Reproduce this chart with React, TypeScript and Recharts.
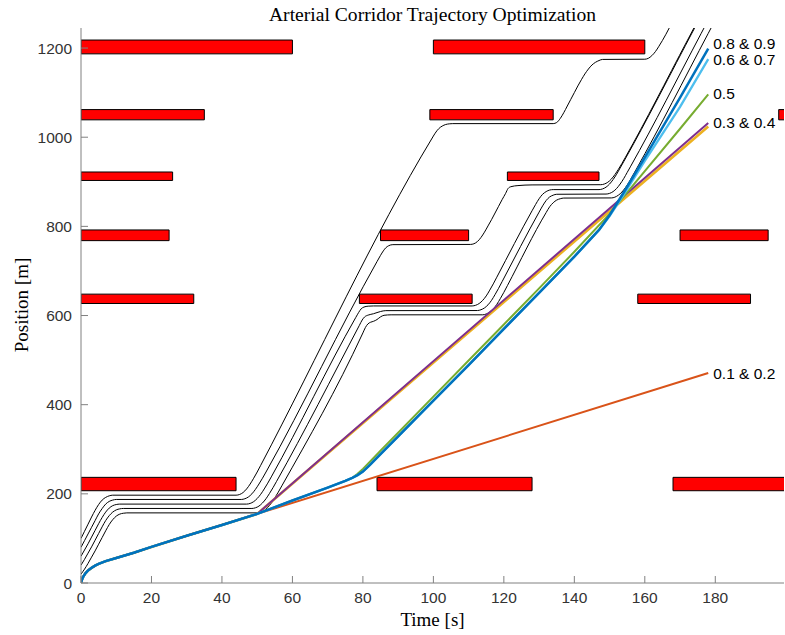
import { LineChart, Line, XAxis, YAxis, ReferenceArea, ReferenceDot } from 'recharts';

type Pt = [number, number];

const xTicks = [0, 20, 40, 60, 80, 100, 120, 140, 160, 180];
const yTicks = [0, 200, 400, 600, 800, 1000, 1200];

// stop bands [m] and red windows [s] of the six signals
const stopBands: Pt[] = [[207, 237], [627, 648], [768, 792], [903, 922], [1039, 1062], [1187, 1218]];
const redPhases: Pt[][] = [
  [[0, 44], [84, 128], [168, 212]],
  [[0, 32], [79, 111], [158, 190]],
  [[0, 25], [85, 110], [170, 195]],
  [[0, 26], [121, 147]],
  [[0, 35], [99, 134], [198, 233]],
  [[0, 60], [100, 160]],
];

// surrounding traffic (black)
const car0: Pt[] = [
  [0, 100], [1, 116], [2, 132], [3, 148], [4, 163], [5, 176], [6, 186], [7, 192], [8, 195.5], [9, 197],
  [44, 197], [45, 198.5], [46, 203], [47, 211], [48, 222], [49, 235], [50, 249], [51, 264],
  [99.5, 996], [100.5, 1009], [101.5, 1019], [102.5, 1025], [103.5, 1028.5], [104.5, 1030], [105.5, 1030.5],
  [134, 1030.5], [135, 1033], [136, 1042], [137, 1055], [138, 1070], [139, 1085], [140, 1100], [141, 1115],
  [142, 1129], [143, 1142], [144, 1153], [145, 1162], [146, 1168], [147, 1172], [148, 1174.5], [160, 1175],
  [161, 1177], [162, 1183], [163, 1192], [164, 1204], [165, 1217], [166, 1231], [167, 1246], [168, 1261],
];
const car1: Pt[] = [
  [0, 80], [1, 95], [2, 110], [3, 125], [4, 140], [5, 155], [6, 167], [7, 177], [8, 183], [9, 186], [10, 187.4],
  [45.5, 187.4], [46.5, 189], [47.5, 193], [48.5, 200], [49.5, 210], [50.5, 222], [51.5, 235], [52.5, 249],
  [84, 721], [85, 735], [85.8, 745], [86.5, 752], [87.3, 756.5], [88.5, 759], [110.5, 759.5],
  [111.5, 761], [112.5, 766], [113.5, 775], [114.5, 787], [115.5, 801], [116.5, 815], [117.5, 830],
  [118.5, 845], [119.5, 860], [120.5, 874], [121.2, 885], [122, 889], [124, 891.5], [128, 893], [147.5, 893.5],
  [148.5, 895], [149.5, 899], [150.5, 906], [151.5, 916], [152.5, 928], [153.5, 941], [154.5, 955],
  [172, 1216], [174, 1246], [176, 1276],
];
const car2: Pt[] = [
  [0, 60], [1, 74], [2, 88], [3, 103], [4, 118], [5, 133], [6, 147], [7, 159], [8, 168], [9, 173.5], [10, 176], [11, 177],
  [47, 177], [48, 178.5], [49, 182.5], [50, 189.5], [51, 199], [52, 211], [53, 224], [54, 238],
  [78, 596], [78.8, 607], [79.5, 615], [80.3, 619], [81.5, 621], [83, 621.5], [111, 621.5],
  [112, 623], [113, 627], [114, 634], [115, 644], [116, 657], [117, 671], [118, 686],
  [128, 835], [129, 849], [130, 862], [131, 872], [132, 878], [133, 881.5], [134, 882.5], [147, 882.5],
  [148, 884], [149, 888], [150, 895], [151, 905], [152, 917], [153, 931], [154, 945], [174, 1243], [176, 1273],
];
const car3: Pt[] = [
  [0, 40], [1, 53], [2, 67], [3, 81], [4, 96], [5, 111], [6, 126], [7, 140], [8, 151], [9, 159], [10, 164],
  [11, 166.3], [12, 167.2], [48.5, 167.2], [49.5, 168.7], [50.5, 172.5], [51.5, 179.5], [52.5, 189],
  [53.5, 201], [54.5, 214], [55.5, 228], [79, 578], [79.8, 590], [80.5, 597], [81.5, 601], [83, 604],
  [85, 609], [86.5, 611], [112.5, 611.2], [113.5, 613], [114.5, 617], [115.5, 624], [116.5, 634],
  [117.5, 647], [118.5, 661], [119.5, 676], [130, 832], [131, 846], [132, 858], [133, 866], [134, 870],
  [135, 872], [149, 872.5], [150, 874], [151, 878], [152, 885], [153, 895], [154, 907], [155, 921],
  [156, 935], [176, 1233], [178, 1263],
];
const car4: Pt[] = [
  [0, 20], [1, 31], [2, 44], [3, 58], [4, 72], [5, 87], [6, 102], [7, 117], [8, 131], [9, 142], [10, 150],
  [11, 154.5], [12, 156.5], [13, 157.3], [50, 157.3], [51, 158.8], [52, 162.5], [53, 169.5], [54, 179],
  [55, 191], [56, 204], [57, 218], [80, 561], [80.7, 573], [81.4, 581], [82.2, 585], [83, 587], [84, 591],
  [85, 597], [86, 600.5], [88, 601.6], [114, 601.6], [115, 603.5], [116, 608], [117, 615], [118, 625],
  [119, 638], [120, 652], [121, 667], [132, 831], [133, 844], [134, 853], [135, 859], [136, 862],
  [137, 863.5], [150.5, 863.8], [151.5, 865.5], [152.5, 870], [153.5, 877], [154.5, 887], [155.5, 899],
  [156.5, 913], [157.5, 927], [178, 1233], [180, 1263],
];
const traffic = [car0, car1, car2, car3, car4];

// optimized ego trajectories per weight
const launch: Pt[] = [
  [0, 0], [0.3, 8], [0.7, 15], [1.2, 21], [2, 28], [3, 34], [4, 39], [5, 43], [7, 49], [10, 56],
  [15, 68], [20, 81], [30, 106], [40, 130], [50, 155],
];
const cruise: Pt[] = [[60, 185], [70, 214], [75, 229], [77, 236]];
const w12: Pt[] = [...launch, [178, 471]];
const w3: Pt[] = [...launch, [178, 1024]];
const w4: Pt[] = [...launch, [178, 1032]];
const w5: Pt[] = [
  ...launch, ...cruise, [78.5, 245], [80, 256], [82, 272], [85, 297], [90, 337], [100, 418], [110, 499],
  [120, 580], [130, 661], [140, 743], [150, 828], [153, 857], [160, 924], [170, 1019], [178, 1096],
];
const w67: Pt[] = [
  ...launch, ...cruise, [78.5, 242], [80, 250], [82, 265], [85, 289], [90, 329], [100, 409], [110, 489],
  [120, 570], [130, 651], [140, 732], [147, 792], [150, 823], [154, 871], [160, 947], [170, 1068], [178, 1175],
];
const w89: Pt[] = [
  ...launch, ...cruise, [78.5, 242], [80, 250], [82, 265], [85, 289], [90, 329], [100, 409], [110, 489],
  [120, 570], [130, 651], [140, 732], [147, 792], [150, 825], [154, 876], [160, 955], [170, 1089], [178, 1199],
];

const toRows = (pts: Pt[]) => pts.map(([t, m]) => ({ t, m }));

const sans = '"Liberation Sans", Arial, sans-serif';
const serif = '"Liberation Serif", "Times New Roman", serif';

const weighted = [
  { key: 'w12', pts: w12, color: '#D95319', width: 2, label: '0.1 & 0.2', dy: 0 },
  { key: 'w3', pts: w3, color: '#EDB120', width: 2.6, label: '', dy: 0 },
  { key: 'w4', pts: w4, color: '#7E2F8E', width: 2, label: '0.3 & 0.4', dy: 0 },
  { key: 'w5', pts: w5, color: '#77AC30', width: 2, label: '0.5', dy: -1 },
  { key: 'w67', pts: w67, color: '#4DBEEE', width: 2.3, label: '0.6 & 0.7', dy: 0 },
  { key: 'w89', pts: w89, color: '#0072BD', width: 2.5, label: '0.8 & 0.9', dy: -5 },
];

const axisText = { fill: '#333', fontSize: 15.5, fontFamily: sans };

export default function App() {
  return (
    <div style={{ position: 'absolute', left: 0, top: 0, width: 785, height: 635, background: '#fff' }}>
      <div
        style={{
          position: 'absolute', top: 5, left: 81, width: 703, textAlign: 'center',
          fontFamily: serif, fontSize: 19.6, lineHeight: '20px', color: '#000',
        }}
      >
        Arterial Corridor Trajectory Optimization
      </div>
      <LineChart width={785} height={635} margin={{ top: 28, right: 1, bottom: 22, left: 41 }}>
        <XAxis
          type="number"
          dataKey="t"
          domain={[0, 199.5]}
          ticks={xTicks}
          interval={0}
          allowDataOverflow
          height={30}
          tickSize={-7}
          tickMargin={16}
          axisLine={{ stroke: '#808080' }}
          tickLine={{ stroke: '#808080' }}
          tick={axisText}
        />
        <YAxis
          type="number"
          dataKey="m"
          domain={[0, 1245]}
          ticks={yTicks}
          interval={0}
          allowDataOverflow
          width={40}
          tickSize={-7}
          tickMargin={16}
          axisLine={{ stroke: '#808080' }}
          tickLine={{ stroke: '#808080' }}
          tick={axisText}
        />
        {redPhases.map((phases, i) =>
          phases.map(([t0, t1]) => (
            <ReferenceArea
              key={`red-${i}-${t0}`}
              x1={t0}
              x2={t1}
              y1={stopBands[i][0]}
              y2={stopBands[i][1]}
              ifOverflow="hidden"
              fill="#FF0000"
              fillOpacity={1}
              stroke="#000"
              strokeWidth={1}
            />
          ))
        )}
        {traffic.map((pts, i) => (
          <Line
            key={`car-${i}`}
            data={toRows(pts)}
            dataKey="m"
            type="monotone"
            stroke="#000"
            strokeWidth={1}
            dot={false}
            activeDot={false}
            isAnimationActive={false}
          />
        ))}
        {weighted.map((s) => (
          <Line
            key={s.key}
            data={toRows(s.pts)}
            dataKey="m"
            type="linear"
            stroke={s.color}
            strokeWidth={s.width}
            dot={false}
            activeDot={false}
            isAnimationActive={false}
          />
        ))}
        {weighted
          .filter((s) => s.label)
          .map((s) => {
            const [t, m] = s.pts[s.pts.length - 1];
            return (
              <ReferenceDot
                key={`lbl-${s.key}`}
                x={t}
                y={m}
                r={0}
                fill="none"
                stroke="none"
                label={(p: any) => (
                  <text
                    x={p.viewBox.x + 5}
                    y={p.viewBox.y + s.dy}
                    dominantBaseline="central"
                    fontFamily={sans}
                    fontSize={15.5}
                    fill="#000"
                  >
                    {s.label}
                  </text>
                )}
              />
            );
          })}
      </LineChart>
      <div
        style={{
          position: 'absolute', top: 610, left: 81, width: 703, textAlign: 'center',
          fontFamily: serif, fontSize: 19, lineHeight: '20px', color: '#000',
        }}
      >
        Time [s]
      </div>
      <div
        style={{
          position: 'absolute', left: 22, top: 305, transform: 'translate(-50%, -50%) rotate(-90deg)',
          whiteSpace: 'nowrap', fontFamily: serif, fontSize: 19, lineHeight: '20px', color: '#000',
        }}
      >
        Position [m]
      </div>
    </div>
  );
}
